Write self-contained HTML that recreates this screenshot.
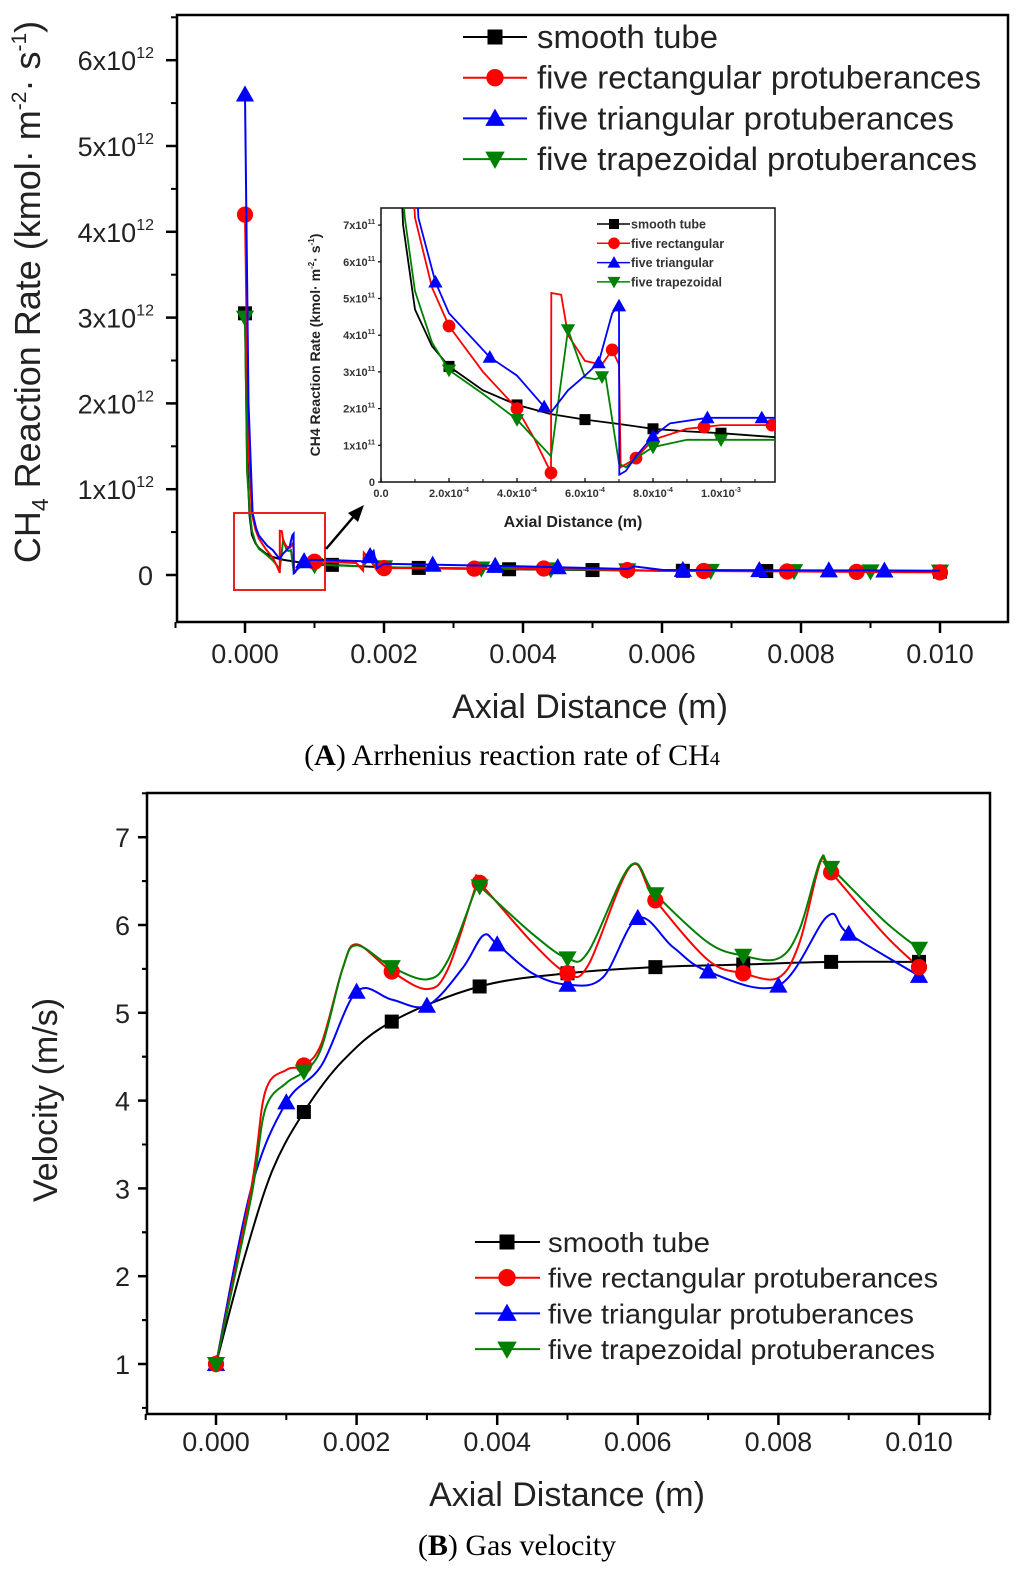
<!DOCTYPE html>
<html><head><meta charset="utf-8"><style>
html,body{margin:0;padding:0;background:#fff;}
svg{display:block;font-family:"Liberation Sans",sans-serif;}
</style></head><body>
<svg id="fig" width="1024" height="1582" viewBox="0 0 1024 1582" xmlns="http://www.w3.org/2000/svg">
<defs>
<clipPath id="clipA"><rect x="177" y="15" width="831" height="607"/></clipPath>
<clipPath id="clipI"><rect x="381" y="208" width="394" height="274"/></clipPath>
<clipPath id="clipB"><rect x="147" y="793" width="843" height="621"/></clipPath>
</defs>
<g id="gA"></g>
<g id="gI"></g>
<g id="gB"></g>
<text x="512" y="765" text-anchor="middle" font-family="Liberation Serif, serif" font-size="30">(<tspan font-weight="bold">A</tspan>) Arrhenius reaction rate of CH<tspan font-size="20">4</tspan></text>
<text x="517" y="1555" text-anchor="middle" font-family="Liberation Serif, serif" font-size="30">(<tspan font-weight="bold">B</tspan>) Gas velocity</text>
</svg>
<script>
// ---------- DATA: inset (x in 1e-4 m, y in 1e11) ----------
const insBlackX=[0,0.3,0.65,1.0,1.5,2,3,4,5,6,7,8,9,10,11.6];
const insBlackY=[30.5,14,7,4.7,3.7,3.15,2.5,2.1,1.85,1.7,1.58,1.45,1.38,1.33,1.22];
const insRedX=[0,0.5,1.0,1.5,2,3,4,4.5,5.0,5.01,5.3,5.5,6,6.5,6.8,7.0,7.05,7.5,8,9,10,11.6];
const insRedY=[42,15,7.2,5.3,4.25,3.0,2.0,1.2,0.25,5.15,5.1,4.0,3.3,3.2,3.6,3.2,0.4,0.65,1.15,1.45,1.55,1.55];
const insBlueX=[0,0.5,1.1,1.6,2,3.2,4,4.8,5.0,5.5,6,6.4,6.8,7.0,7.01,7.2,7.5,8,8.5,9.6,11.6];
const insBlueY=[56,20,7.2,5.45,4.6,3.4,2.9,2.05,1.9,2.5,2.9,3.25,4.6,4.8,0.2,0.3,0.7,1.25,1.6,1.75,1.75];
const insGreenX=[0,0.3,0.7,1,1.5,2,3,4,4.5,5.0,5.5,6.0,6.3,6.6,7.0,7.2,7.5,8,9,10,11.6];
const insGreenY=[30,12,7.2,5.2,3.8,3.05,2.4,1.7,1.2,0.7,4.15,2.85,2.8,2.9,0.5,0.4,0.65,0.95,1.15,1.15,1.15];
const insBlackMk=[2,4,6,8,10];
const insRedMk=[2,4,5,6.8,7.5,9.5,11.5];
const insBlueMk=[1.6,3.2,4.8,6.4,7.0,8.0,9.6,11.2];
const insGreenMk=[2,4,5.5,6.5,8,10];
// ---------- DATA: main A far range (x in m, y in 1e11) ----------
const farBlackX=[0.0012,0.002,0.003,0.004,0.006,0.008,0.010];
const farBlackY=[1.2,0.9,0.75,0.65,0.5,0.45,0.4];
const farRedX=[0.0012,0.0016,0.0017,0.00171,0.0018,0.0019,0.002,0.003,0.0035,0.0036,0.004,0.006,0.01];
const farRedY=[1.55,1.4,0.5,2.6,1.8,0.5,0.8,0.8,0.7,1.0,0.8,0.5,0.3];
const farBlueX=[0.0012,0.0017,0.0018,0.00185,0.0019,0.002,0.004,0.0055,0.0056,0.006,0.01];
const farBlueY=[1.75,1.6,2.2,2.8,0.8,1.3,1.0,0.7,1.0,0.6,0.5];
const farGreenX=[0.0012,0.0017,0.0018,0.0019,0.002,0.004,0.006,0.01];
const farGreenY=[1.15,1.0,2.0,0.6,0.9,0.7,0.5,0.4];
const mainBlackMk=[0,0.00125,0.0025,0.0038,0.005,0.0063,0.0075,0.01];
const mainRedMk=[0,0.001,0.002,0.0033,0.0043,0.0055,0.0066,0.0078,0.0088,0.01];
const mainBlueMk=[0,0.00085,0.0018,0.0027,0.0036,0.0045,0.0063,0.0074,0.0084,0.0092];
const mainGreenMk=[0,0.001,0.002,0.0034,0.0044,0.0055,0.0067,0.0079,0.009,0.01];
const aXTicks=["0.000","0.002","0.004","0.006","0.008","0.010"];
const aYTicks=[0,1,2,3,4,5,6];
const iXTicks=["0.0","2.0x10","4.0x10","6.0x10","8.0x10","1.0x10"];
const iXExp=["","-4","-4","-4","-4","-3"];
const iYTicks=[0,1,2,3,4,5,6,7];
// ---------- DATA: chart B velocity ----------
const bBlackX=[0,0.0004,0.0008,0.00125,0.0018,0.0025,0.00375,0.005,0.00625,0.0075,0.00875,0.01];
const bBlackY=[1,2.2,3.2,3.87,4.45,4.9,5.3,5.45,5.52,5.55,5.58,5.58];
const bRedX=[0,0.0005,0.0007,0.001,0.00125,0.0015,0.0018,0.002,0.0025,0.003,0.0033,0.0037,0.00375,0.0045,0.005,0.0053,0.0059,0.00625,0.007,0.0075,0.008,0.0083,0.0086,0.00875,0.0095,0.01];
const bRedY=[1,3.0,4.1,4.35,4.4,4.65,5.5,5.78,5.47,5.27,5.5,6.45,6.48,5.8,5.45,5.55,6.67,6.28,5.6,5.45,5.4,5.8,6.72,6.6,5.9,5.52];
const bBlueX=[0,0.0005,0.001,0.0015,0.002,0.0025,0.003,0.0035,0.0038,0.004,0.0045,0.005,0.0055,0.006,0.0065,0.007,0.008,0.0087,0.009,0.01];
const bBlueY=[1,3.0,3.98,4.4,5.24,5.15,5.08,5.5,5.88,5.78,5.45,5.32,5.4,6.08,5.75,5.47,5.31,6.1,5.9,5.42];
const bGreenX=[0,0.0005,0.0007,0.001,0.00125,0.0015,0.0018,0.002,0.0025,0.003,0.0033,0.0037,0.00375,0.0045,0.005,0.0053,0.0059,0.00625,0.007,0.0075,0.008,0.0083,0.0086,0.00875,0.0095,0.01];
const bGreenY=[1,2.9,3.9,4.2,4.33,4.6,5.5,5.77,5.52,5.38,5.6,6.42,6.44,5.9,5.62,5.7,6.68,6.35,5.8,5.65,5.62,5.95,6.74,6.65,6.05,5.73];
const bBlackMk=[0,0.00125,0.0025,0.00375,0.005,0.00625,0.0075,0.00875,0.01];
const bRedMk=[0,0.00125,0.0025,0.00375,0.005,0.00625,0.0075,0.00875,0.01];
const bBlueMk=[0,0.001,0.002,0.003,0.004,0.005,0.006,0.007,0.008,0.009,0.01];
const bGreenMk=[0,0.00125,0.0025,0.00375,0.005,0.00625,0.0075,0.00875,0.01];
const bXTicks=["0.000","0.002","0.004","0.006","0.008","0.010"];
const bYTicks=[1,2,3,4,5,6,7];
const seriesNames=["smooth tube","five rectangular protuberances","five triangular protuberances","five trapezoidal protuberances"];
const insetNames=["smooth tube","five rectangular","five triangular","five trapezoidal"];
const colors=["#000000","#ff0000","#0000ff","#008000"];
const shapes=["square","circle","up","down"];

const NS="http://www.w3.org/2000/svg";
function mk(tag,attrs,parent){const e=document.createElementNS(NS,tag);for(const k in attrs)e.setAttribute(k,attrs[k]);parent.appendChild(e);return e;}
function interp(xs,ys,x){if(x<=xs[0])return ys[0];for(let i=1;i<xs.length;i++){if(x<=xs[i]){const t=(x-xs[i-1])/(xs[i]-xs[i-1]||1);return ys[i-1]+t*(ys[i]-ys[i-1]);}}return ys[ys.length-1];}
function marker(shape,cx,cy,s,color,parent){
  let e;
  if(shape==="square") e=mk("rect",{x:cx-s/2,y:cy-s/2,width:s,height:s,fill:color},parent);
  else if(shape==="circle") e=mk("circle",{cx:cx,cy:cy,r:s*0.58,fill:color},parent);
  else if(shape==="up") e=mk("polygon",{points:`${cx},${cy-s*0.65} ${cx-s*0.65},${cy+s*0.5} ${cx+s*0.65},${cy+s*0.5}`,fill:color},parent);
  else e=mk("polygon",{points:`${cx},${cy+s*0.65} ${cx-s*0.65},${cy-s*0.5} ${cx+s*0.65},${cy-s*0.5}`,fill:color},parent);
  return e;
}
function linePath(pts){return pts.map((p,i)=>(i?"L":"M")+p[0].toFixed(1)+","+p[1].toFixed(1)).join("");}
function smoothPath(pts){
  let d="M"+pts[0][0]+","+pts[0][1];
  for(let i=0;i<pts.length-1;i++){
    const p0=pts[i-1]||pts[i],p1=pts[i],p2=pts[i+1],p3=pts[i+2]||p2;
    const c1=[p1[0]+(p2[0]-p0[0])/6,p1[1]+(p2[1]-p0[1])/6];
    const c2=[p2[0]-(p3[0]-p1[0])/6,p2[1]-(p3[1]-p1[1])/6];
    d+=`C${c1[0].toFixed(1)},${c1[1].toFixed(1)} ${c2[0].toFixed(1)},${c2[1].toFixed(1)} ${p2[0].toFixed(1)},${p2[1].toFixed(1)}`;
  }
  return d;
}

// ================= CHART A =================
const gA=document.getElementById("gA");
const xA=v=>245+v/0.002*139;
const yA=v=>575-v/1e12*85.8;
let f=mk("rect",{x:177,y:15,width:831,height:607,fill:"none",stroke:"#000","stroke-width":2.5},gA);


aXTicks.forEach((t,i)=>{
  const v=i*0.002,x=xA(v);
  mk("line",{x1:x,y1:622,x2:x,y2:633,stroke:"#000","stroke-width":2.5},gA);
  if(i<5) mk("line",{x1:xA(v+0.001),y1:622,x2:xA(v+0.001),y2:628,stroke:"#000","stroke-width":2},gA);
  const tx=mk("text",{x:x,y:663,"text-anchor":"middle","font-size":27,fill:"#222"},gA);tx.textContent=t;
  
  
});
mk("line",{x1:xA(-0.001),y1:622,x2:xA(-0.001),y2:628,stroke:"#000","stroke-width":2},gA);
aYTicks.forEach(v=>{
  const y=yA(v*1e12);
  mk("line",{x1:166,y1:y,x2:177,y2:y,stroke:"#000","stroke-width":2.5},gA);
  mk("line",{x1:171,y1:yA((v+0.5)*1e12),x2:177,y2:yA((v+0.5)*1e12),stroke:"#000","stroke-width":2},gA);
  const tx=mk("text",{x:v===0?153:154,y:y+10,"text-anchor":"end","font-size":27,fill:"#222"},gA);
  if(v===0) tx.textContent="0"; else tx.innerHTML=`${v}x10<tspan font-size="16" dy="-12">12</tspan>`;
  
  
});
let t=mk("text",{x:590,y:718,"text-anchor":"middle","font-size":34,fill:"#222"},gA);t.textContent="Axial Distance (m)";


t=mk("text",{transform:"translate(40,292) rotate(-90)","text-anchor":"middle","font-size":36,fill:"#222"},gA);
t.innerHTML='CH<tspan font-size="23" dy="8">4</tspan><tspan dy="-8"> Reaction Rate (kmol· m</tspan><tspan font-size="21" dy="-14">-2</tspan><tspan dy="14">·  s</tspan><tspan font-size="21" dy="-14">-1</tspan><tspan dy="14">)</tspan>';


const insX=[insBlackX,insRedX,insBlueX,insGreenX],insY=[insBlackY,insRedY,insBlueY,insGreenY];
const farX=[farBlackX,farRedX,farBlueX,farGreenX],farY=[farBlackY,farRedY,farBlueY,farGreenY];
const mainMk=[mainBlackMk,mainRedMk,mainBlueMk,mainGreenMk];
const gAc=mk("g",{"clip-path":"url(#clipA)"},gA);
[0,3,1,2].forEach(s=>{
  const xs=insX[s].map(v=>v*1e-4).concat(farX[s]);
  const ys=insY[s].map(v=>v*1e11).concat(farY[s].map(v=>v*1e11));
  const p=mk("path",{d:linePath(xs.map((x,i)=>[xA(x),yA(ys[i])])),fill:"none",stroke:colors[s],"stroke-width":2},gAc);
  
  
  mainMk[s].forEach(mx=>{
    const m=marker(shapes[s],xA(mx),yA(interp(xs,ys,mx)),14,colors[s],gAc);
    
    
  });
});
let box=mk("rect",{x:234,y:513,width:91,height:77,fill:"none",stroke:"#e82020","stroke-width":2},gA);


let ar=mk("g",{},gA);


mk("line",{x1:326,y1:549,x2:355,y2:515,stroke:"#000","stroke-width":2.5},ar);
mk("polygon",{points:"364,505 348,513 358,522",fill:"#000"},ar);
// legend A
const legA=mk("g",{},gA);


const legALens=[181,444,417,440];
seriesNames.forEach((n,i)=>{
  const y=37+i*40.7;
  const e=mk("g",{},legA);
  
  
  mk("line",{x1:463,y1:y,x2:527,y2:y,stroke:colors[i],"stroke-width":2},e);
  marker(shapes[i],495,y,15,colors[i],e);
  const tt=mk("text",{x:537,y:y+11,"font-size":32,fill:"#222"},e);tt.textContent=n;
  tt.setAttribute("textLength",legALens[i]);
  tt.setAttribute("lengthAdjust","spacingAndGlyphs");
});

// ================= INSET =================
const gI=document.getElementById("gI");
const xi=v=>381+v/2*68;
const yi=v=>482-v*36.7;
f=mk("rect",{x:381,y:208,width:394,height:274,fill:"none",stroke:"#111","stroke-width":1.5},gI);


iXTicks.forEach((tk,i)=>{
  const x=xi(i*2);
  mk("line",{x1:x,y1:482,x2:x,y2:478,stroke:"#000","stroke-width":1.2},gI);
  mk("line",{x1:xi(i*2+1),y1:482,x2:xi(i*2+1),y2:479,stroke:"#000","stroke-width":1},gI);
  const tx=mk("text",{x:x,y:497,"text-anchor":"middle","font-size":11,"font-weight":"bold",fill:"#333"},gI);
  tx.innerHTML=tk+(iXExp[i]?`<tspan font-size="7" dy="-5">${iXExp[i]}</tspan>`:"");
  
  
});
iYTicks.forEach(v=>{
  const y=yi(v);
  mk("line",{x1:378,y1:y,x2:381,y2:y,stroke:"#000","stroke-width":1.2},gI);
  const tx=mk("text",{x:375,y:y+4,"text-anchor":"end","font-size":11,"font-weight":"bold",fill:"#333"},gI);
  tx.innerHTML=v===0?"0":`${v}x10<tspan font-size="7" dy="-5">11</tspan>`;
  
  
});
t=mk("text",{x:573,y:527,"text-anchor":"middle","font-size":16,"font-weight":"bold",fill:"#222"},gI);t.textContent="Axial Distance (m)";


t=mk("text",{transform:"translate(320,345) rotate(-90)","text-anchor":"middle","font-size":14,"font-weight":"bold",fill:"#222"},gI);
t.innerHTML='CH4 Reaction Rate (kmol· m<tspan font-size="8" dy="-6">-2</tspan><tspan dy="6">· s</tspan><tspan font-size="8" dy="-6">-1</tspan><tspan dy="6">)</tspan>';


const insMk=[insBlackMk,insRedMk,insBlueMk,insGreenMk];
const gIc=mk("g",{"clip-path":"url(#clipI)"},gI);
[0,1,3,2].forEach(s=>{
  const p=mk("path",{d:linePath(insX[s].map((x,i)=>[xi(x),yi(insY[s][i])])),fill:"none",stroke:colors[s],"stroke-width":1.8},gIc);
  
  
  insMk[s].forEach(mx=>{
    const m=marker(shapes[s],xi(mx),yi(interp(insX[s],insY[s],mx)),11,colors[s],gIc);
    
    
  });
});
const legI=mk("g",{},gI);


insetNames.forEach((n,i)=>{
  const y=224+i*19.3;
  const e=mk("g",{},legI);
  
  
  mk("line",{x1:597,y1:y,x2:630,y2:y,stroke:colors[i],"stroke-width":1.5},e);
  marker(shapes[i],614,y,10,colors[i],e);
  const tt=mk("text",{x:631,y:y+4.5,"font-size":12.5,"font-weight":"bold",fill:"#333"},e);tt.textContent=n;
});

// ================= CHART B =================
const gB=document.getElementById("gB");
const xB=v=>216+v/0.01*703;
const yB=v=>1364-(v-1)*87.8;
f=mk("rect",{x:147,y:793,width:843,height:621,fill:"none",stroke:"#000","stroke-width":2.5},gB);


bXTicks.forEach((tk,i)=>{
  const v=i*0.002,x=xB(v);
  mk("line",{x1:x,y1:1414,x2:x,y2:1425,stroke:"#000","stroke-width":2.5},gB);
  if(i<5) mk("line",{x1:xB(v+0.001),y1:1414,x2:xB(v+0.001),y2:1420,stroke:"#000","stroke-width":2},gB);
  const tx=mk("text",{x:x,y:1451,"text-anchor":"middle","font-size":27,fill:"#222"},gB);tx.textContent=tk;
  
  
});
mk("line",{x1:xB(-0.001),y1:1414,x2:xB(-0.001),y2:1420,stroke:"#000","stroke-width":2},gB);
mk("line",{x1:xB(0.011),y1:1414,x2:xB(0.011),y2:1420,stroke:"#000","stroke-width":2},gB);
bYTicks.forEach(v=>{
  const y=yB(v);
  mk("line",{x1:138,y1:y,x2:147,y2:y,stroke:"#000","stroke-width":2.5},gB);
  mk("line",{x1:142,y1:yB(v+0.5),x2:147,y2:yB(v+0.5),stroke:"#000","stroke-width":2},gB);
  mk("line",{x1:142,y1:yB(v-0.5),x2:147,y2:yB(v-0.5),stroke:"#000","stroke-width":2},gB);
  const tx=mk("text",{x:130,y:y+10,"text-anchor":"end","font-size":27,fill:"#222"},gB);tx.textContent=v;
  
  
});
t=mk("text",{x:567,y:1506,"text-anchor":"middle","font-size":34,fill:"#222"},gB);t.textContent="Axial Distance (m)";


t=mk("text",{transform:"translate(57,1100) rotate(-90)","text-anchor":"middle","font-size":34,fill:"#222"},gB);t.textContent="Velocity (m/s)";


const bX=[bBlackX,bRedX,bBlueX,bGreenX],bY=[bBlackY,bRedY,bBlueY,bGreenY],bMk=[bBlackMk,bRedMk,bBlueMk,bGreenMk];
const gBc=mk("g",{"clip-path":"url(#clipB)"},gB);
[0,2,1,3].forEach(s=>{
  const p=mk("path",{d:smoothPath(bX[s].map((x,i)=>[xB(x),yB(bY[s][i])])),fill:"none",stroke:colors[s],"stroke-width":2},gBc);
  
  
});
[0,2,1,3].forEach(s=>{
  bMk[s].forEach(mx=>{
    const m=marker(shapes[s],xB(mx),yB(interp(bX[s],bY[s],mx)),14,colors[s],gBc);
    
    
  });
});
const legB=mk("g",{},gB);


seriesNames.forEach((n,i)=>{
  const y=1242+i*35.7;
  const e=mk("g",{},legB);
  
  
  mk("line",{x1:475,y1:y,x2:540,y2:y,stroke:colors[i],"stroke-width":2},e);
  marker(shapes[i],507,y,15,colors[i],e);
  const tt=mk("text",{x:548,y:y+10,"font-size":28,fill:"#222"},e);tt.textContent=n;
  const lens=[162,390,366,387];
  tt.setAttribute("textLength",lens[i]);
  tt.setAttribute("lengthAdjust","spacingAndGlyphs");
});
</script>
</body></html>
